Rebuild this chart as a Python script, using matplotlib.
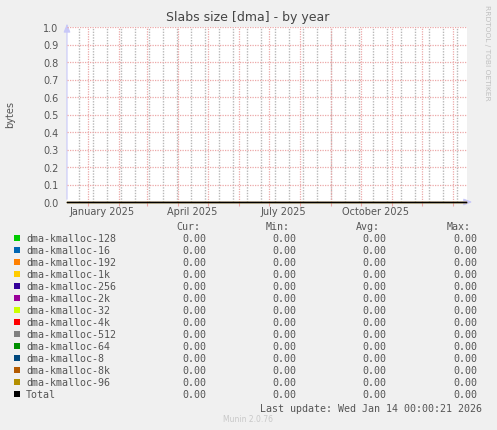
import matplotlib
matplotlib.use("Agg")
import matplotlib.pyplot as plt
import matplotlib.dates as mdates
import matplotlib.ticker as mticker
from datetime import datetime, timedelta
import numpy as np

# series shown in the munin graph (all flat at zero)
series_names = ["dma-kmalloc-128", "dma-kmalloc-16", "dma-kmalloc-192", "dma-kmalloc-1k",
                "dma-kmalloc-256", "dma-kmalloc-2k", "dma-kmalloc-32", "dma-kmalloc-4k",
                "dma-kmalloc-512", "dma-kmalloc-64", "dma-kmalloc-8", "dma-kmalloc-8k",
                "dma-kmalloc-96", "Total"]
series_colors = ["#00CC00", "#0066B3", "#FF8000", "#FFCC00", "#330099", "#990099", "#CCFF00",
                 "#FF0000", "#808080", "#008F00", "#00487D", "#B35A00", "#B38F00", "#000000"]
sample_times = [datetime(2024, 12, 11, 12), datetime(2026, 1, 14, 0, 0, 21)]
series_values = [[0.0, 0.0] for _ in series_names]

view_start = datetime(2024, 12, 11, 12)
view_end = datetime(2026, 1, 15, 12)
label_months = [datetime(2025, 1, 1), datetime(2025, 4, 1), datetime(2025, 7, 1), datetime(2025, 10, 1)]
label_texts = ["January 2025", "April 2025", "July 2025", "October 2025"]
last_update = "Last update: Wed Jan 14 00:00:21 2026"

W, H = 497, 431
fig = plt.figure(figsize=(W / 100, H / 100), dpi=100, facecolor="#F0F0F0")

def fx(px):
    return px / W

def fy(py):
    return 1 - py / H

ax = fig.add_axes([fx(67), fy(203), fx(400), 175 / H], facecolor="white")

for name, col, vals in zip(series_names, series_colors, series_values):
    ax.plot(mdates.date2num(sample_times), vals, color=col, lw=0.8, zorder=4, clip_on=False)

x0 = mdates.date2num(view_start)
x1 = mdates.date2num(view_end)
ax.set_xlim(x0, x1)
ax.set_ylim(0, 1)

dot = (0, (1, 1))
# grey dotted minor lines every 2 weeks
minor_pos = np.arange(mdates.date2num(datetime(2024, 12, 23)), x1, 14)
ax.vlines(minor_pos, 0, 1, transform=ax.get_xaxis_transform(), colors="#B8B8B8",
          lw=1.0, linestyles=dot, zorder=1)

# red dotted major lines at month starts + y grid
ax.xaxis.set_major_locator(mdates.MonthLocator())
ax.xaxis.set_major_formatter(mticker.NullFormatter())
ax.grid(which="major", axis="x", color="#ECA8A8", lw=0.9, ls=dot, zorder=2)
ax.yaxis.set_major_locator(mticker.MultipleLocator(0.1))
ax.yaxis.set_major_formatter(mticker.FormatStrFormatter("%.1f"))
ax.grid(which="major", axis="y", color="#ECA8A8", lw=0.9, ls=dot, zorder=2)
ax.tick_params(axis="x", which="major", length=3, color="#ECA8A8", width=0.8)
ax.tick_params(axis="y", length=0, pad=6, labelsize=7, labelcolor="#555555")

for m, t in zip(label_months, label_texts):
    ax.text(mdates.date2num(m + timedelta(days=15)), -9 / 175, t, transform=ax.get_xaxis_transform(),
            ha="center", va="center", fontsize=7, color="#555555")

for s in ax.spines.values():
    s.set_visible(False)

# axis arrows
ax.annotate("", xy=(0, 1.035), xytext=(0, 0), xycoords="axes fraction",
            arrowprops=dict(arrowstyle="-|>,head_length=0.5,head_width=0.2", color="#C8C8F8", lw=0.8),
            annotation_clip=False, zorder=0)
ax.annotate("", xy=(1.02, 0), xytext=(0, 0), xycoords="axes fraction",
            arrowprops=dict(arrowstyle="-|>,head_length=0.5,head_width=0.2", color="#C8C8F8", lw=0.8),
            annotation_clip=False, zorder=0)

fig.text(fx(248), fy(18), "Slabs size [dma] - by year", ha="center", va="center", fontsize=9, color="#444444")
fig.text(fx(10), fy(115), "bytes", rotation=90, ha="center", va="center", fontsize=7, color="#555555")
fig.text(fx(487), fy(5), "RRDTOOL / TOBI OETIKER", rotation=270, ha="center", va="top",
         fontsize=5.4, color="#C0C0C0")

# legend table
mono = "DejaVu Sans Mono"
fs = 7.2
txt = "#555555"
col_right = [206, 296, 386, 477]
for hdr, xr in zip(["Cur:", "Min:", "Avg:", "Max:"], col_right):
    fig.text(fx(xr - 6), fy(227), hdr, ha="right", va="center", fontsize=fs, family=mono, color=txt)

for i, (name, col, vals) in enumerate(zip(series_names, series_colors, series_values)):
    y = 239.3 + 12 * i
    fig.patches.append(plt.Rectangle((fx(14), fy(y + 3)), fx(6), 6 / H, transform=fig.transFigure,
                                     facecolor=col, edgecolor="none"))
    fig.text(fx(26), fy(y), name, ha="left", va="center", fontsize=fs, family=mono, color=txt)
    stats = [vals[-1], min(vals), float(np.mean(vals)), max(vals)]
    for v, xr in zip(stats, col_right):
        fig.text(fx(xr), fy(y), "%.2f" % v, ha="right", va="center", fontsize=fs, family=mono, color=txt)

fig.text(fx(482), fy(408.7), last_update, ha="right", va="center", fontsize=fs, family=mono, color=txt)
fig.text(fx(248), fy(420), "Munin 2.0.76", ha="center", va="center", fontsize=5.5, color="#C8C8C8")

fig.savefig("out.png", dpi=100, facecolor=fig.get_facecolor())
